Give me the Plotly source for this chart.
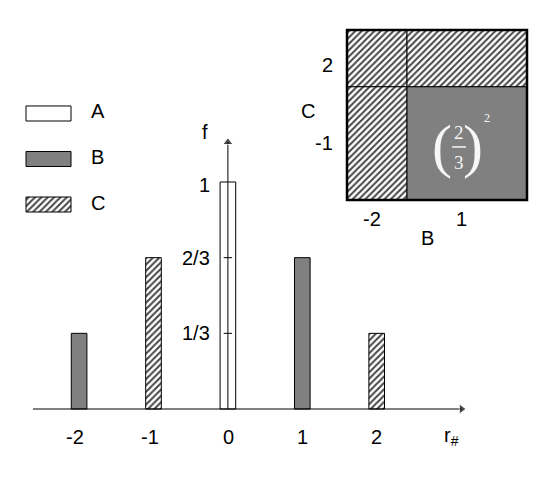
import plotly.graph_objects as go

# distribution of r#
r_vals = [-2, -1, 0, 1, 2]
f_vals = [1/3, 2/3, 1, 2/3, 1/3]
r_kind = ["B", "C", "A", "B", "C"]
r_ticktext = ["-2", "-1", "0", "1", "2"]

f_tickvals = [1/3, 2/3, 1]
f_ticktext = ["1/3", "2/3", "1"]

legend_keys = ["A", "B", "C"]

# inset: joint outcomes of B (columns) and C (rows)
b_vals = ["-2", "1"]
b_prob = [1/3, 2/3]
c_vals = ["-1", "2"]
c_prob = [2/3, 1/3]

W, H = 557, 481
FONT = "Liberation Sans, Arial, sans-serif"
SERIF = "Liberation Serif, Times New Roman, serif"
GREY = "#808080"
STYLE = {"A": ("white", ""), "B": (GREY, ""), "C": ("white", "/")}


def hidden(**kw):
    d = dict(visible=False, fixedrange=True, showgrid=False, zeroline=False)
    d.update(kw)
    return d


def pattern(shapes):
    return dict(shape=shapes, fgcolor="black", fgopacity=1, size=4.5, solidity=0.45)


fig = go.Figure()

# main bars
fig.add_trace(go.Bar(
    x=r_vals, y=f_vals, width=0.21,
    marker=dict(color=[STYLE[k][0] for k in r_kind],
                pattern=pattern([STYLE[k][1] for k in r_kind]),
                line=dict(color="black", width=1)),
    hoverinfo="skip",
))

# axes drawn as arrows
fig.add_trace(go.Scatter(
    x=[-2.62, 3.14], y=[0, 0], mode="lines+markers", cliponaxis=False,
    line=dict(color="black", width=1),
    marker=dict(symbol="triangle-right", size=[0, 9], color="black"),
    hoverinfo="skip",
))
fig.add_trace(go.Scatter(
    x=[0, 0], y=[0, 1.175], mode="lines+markers", cliponaxis=False,
    line=dict(color="black", width=1),
    marker=dict(symbol="triangle-up", size=[0, 9], color="black"),
    hoverinfo="skip",
))

# little ticks across the f axis
fig.add_trace(go.Scatter(
    x=[0] * 2, y=f_tickvals[:2], mode="markers",
    marker=dict(symbol="line-ew", size=6, line=dict(color="black", width=1)),
    hoverinfo="skip",
))

# legend swatches
fig.add_trace(go.Bar(
    x=[1] * len(legend_keys), y=list(range(len(legend_keys))), base=0,
    orientation="h", width=0.33, xaxis="x3", yaxis="y3",
    marker=dict(color=[STYLE[k][0] for k in legend_keys],
                pattern=pattern([STYLE[k][1] for k in legend_keys]),
                line=dict(color="black", width=1)),
    hoverinfo="skip",
))

# inset cells
cx, cw, cb, ch, ccol, cpat = [], [], [], [], [], []
left = 0
for bv, bp in zip(b_vals, b_prob):
    bottom = 0
    for cv, cp in zip(c_vals, c_prob):
        cx.append(left + bp / 2)
        cw.append(bp)
        cb.append(bottom)
        ch.append(cp)
        solid = bv == "1" and cv == "-1"
        ccol.append(GREY if solid else "white")
        cpat.append("" if solid else "/")
        bottom += cp
    left += bp

fig.add_trace(go.Bar(
    x=cx, y=ch, base=cb, width=cw, xaxis="x2", yaxis="y2",
    marker=dict(color=ccol, pattern=pattern(cpat),
                line=dict(color="black", width=1)),
    hoverinfo="skip",
))

ann = []


def txt(x, y, s, ref=("x", "y"), **kw):
    d = dict(x=x, y=y, text=s, xref=ref[0], yref=ref[1], showarrow=False,
             font=dict(family=FONT, size=20, color="black"))
    d.update(kw)
    ann.append(d)


for v, t in zip(r_vals, r_ticktext):
    txt(v, -0.123, t, xshift=-4 if v < 0 else (1 if v == 0 else 0))
txt(3.01, -0.123, "r<sub>#</sub>")
for v, t in zip(f_tickvals, f_ticktext):
    txt(-0.214, v, t, xanchor="right", yshift=-3 if t == "1" else 0)
txt(-0.307, 1.22, "f")

for i, k in enumerate(legend_keys):
    txt(1.4, i, k, ref=("x3", "y3"), xanchor="left", yshift=2)

# inset labels
r2 = ("x2", "y2")
txt(b_prob[0] / 2, -0.112, b_vals[0], ref=r2, xshift=-5)
txt(b_prob[0] + b_prob[1] / 2, -0.112, b_vals[1], ref=r2, xshift=-5)
txt(0.45, -0.224, "B", ref=r2)
txt(-0.067, c_prob[0] / 2, c_vals[0], ref=r2, xanchor="right")
txt(-0.067, c_prob[0] + c_prob[1] / 2, c_vals[1], ref=r2, xanchor="right", yshift=-7)
txt(-0.214, 0.526, "C", ref=r2)

# (2/3)^2 in the grey cell
light = "#f6f6f6"
paren = dict(family=SERIF, size=60, color=light)
txt(0.527, 0.32, "(", ref=r2, font=paren, borderpad=0)
txt(0.70, 0.32, ")", ref=r2, font=paren, borderpad=0)
txt(0.622, 0.397, "2", ref=r2, font=dict(family=SERIF, size=19, color=light), borderpad=0)
txt(0.622, 0.222, "3", ref=r2, font=dict(family=SERIF, size=19, color=light), borderpad=0)
txt(0.78, 0.48, "2", ref=r2, font=dict(family=SERIF, size=12, color=light), borderpad=0)

shapes = [
    dict(type="line", xref="x2", yref="y2", x0=0.583, x1=0.661, y0=0.312, y1=0.312,
         line=dict(color=light, width=1.5)),
    dict(type="rect", xref="x2", yref="y2", x0=0, x1=1, y0=0, y1=1,
         line=dict(color="black", width=2.5)),
]

fig.update_layout(
    width=W, height=H,
    margin=dict(l=0, r=0, t=0, b=0),
    paper_bgcolor="white", plot_bgcolor="rgba(0,0,0,0)",
    showlegend=False, barmode="overlay",
    font=dict(family=FONT, size=20, color="black"),
    # the page puts the plot 8px in from the top left corner
    xaxis=hidden(domain=[0, 1], range=[-2.9556, 4.5309]),
    yaxis=hidden(domain=[0, 1], range=[-0.3524, 1.7665]),
    xaxis2=hidden(domain=[282 / W, 532 / W], range=[-0.3167, 1.0722], anchor="y2"),
    yaxis2=hidden(domain=[(H - 247) / H, (H - 12) / H], range=[-0.3235, 1.0588], anchor="x2"),
    xaxis3=hidden(domain=[12 / W, 112 / W], range=[-0.1333, 2.0889], anchor="y3"),
    yaxis3=hidden(domain=[(H - 227) / H, (H - 77) / H], range=[2.670, -0.626], anchor="x3"),
    annotations=ann,
    shapes=shapes,
)

fig.write_html("out.html")
